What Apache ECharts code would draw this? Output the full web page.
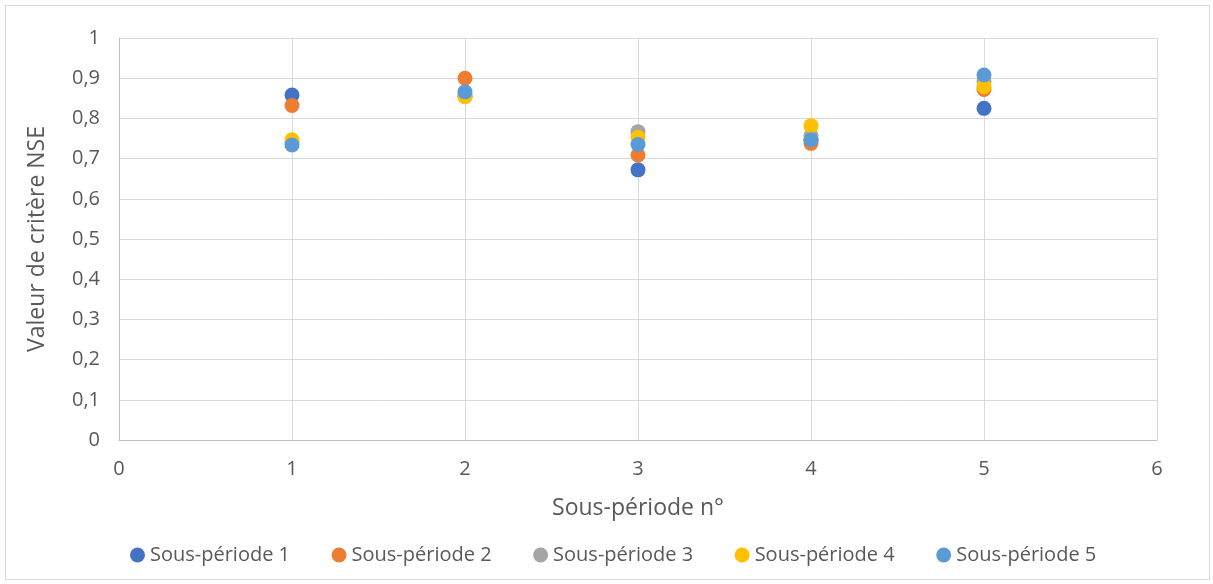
<!DOCTYPE html>
<html>
<head>
<meta charset="utf-8">
<script src="https://cdn.jsdelivr.net/npm/echarts@6/dist/echarts.min.js"></script>
<style>
html,body{margin:0;padding:0;background:#fff;}
#frame{position:absolute;left:5px;top:5px;width:1205px;height:575px;border:1px solid #d9d9d9;box-sizing:border-box;}
#c{position:absolute;left:0;top:0;width:1213px;height:584px;}
</style>
</head>
<body>
<div id="frame"></div>
<div id="c"></div>
<script>
const xValues = [1, 2, 3, 4, 5];
const seriesNames = ['Sous-période 1', 'Sous-période 2', 'Sous-période 3', 'Sous-période 4', 'Sous-période 5'];
const sp1 = [0.858, 0.855, 0.672, 0.745, 0.825];
const sp2 = [0.832, 0.900, 0.709, 0.738, 0.872];
const sp3 = [0.740, 0.860, 0.767, 0.757, 0.893];
const sp4 = [0.747, 0.854, 0.753, 0.782, 0.879];
const sp5 = [0.734, 0.866, 0.735, 0.747, 0.908];
const colors = ['#4472C4', '#ED7D31', '#A5A5A5', '#FFC000', '#5B9BD5'];
const allSeries = [sp1, sp2, sp3, sp4, sp5];
const yTickLabels = ['0','0,1','0,2','0,3','0,4','0,5','0,6','0,7','0,8','0,9','1'];

const font = '"Open Sans", sans-serif';
const chart = echarts.init(document.getElementById('c'), null, {renderer: 'canvas'});
chart.setOption({
  animation: false,
  color: colors,
  grid: {left: 119, right: 56, top: 38, bottom: 144, containLabel: false},
  xAxis: {
    type: 'value', min: 0, max: 6, interval: 1,
    name: 'Sous-période n°', nameLocation: 'middle', nameGap: 57,
    nameTextStyle: {color: '#595959', fontSize: 23, fontFamily: font},
    axisLine: {show: true, lineStyle: {color: '#bfbfbf', width: 1}},
    axisTick: {show: false},
    axisLabel: {color: '#595959', fontSize: 20, fontFamily: font, margin: 19},
    splitLine: {show: true, lineStyle: {color: '#d9d9d9', width: 1}}
  },
  yAxis: {
    type: 'value', min: 0, max: 1, interval: 0.1,
    name: 'Valeur de critère NSE', nameLocation: 'middle', nameGap: 70,
    nameTextStyle: {color: '#595959', fontSize: 23, fontFamily: font},
    axisLine: {show: true, lineStyle: {color: '#bfbfbf', width: 1}},
    axisTick: {show: false},
    axisLabel: {color: '#595959', fontSize: 20, fontFamily: font, margin: 19,
      formatter: v => yTickLabels[Math.round(v * 10)]},
    splitLine: {show: true, lineStyle: {color: '#d9d9d9', width: 1}}
  },
  legend: {
    top: 540, left: 125, itemGap: 41.5, itemWidth: 15, itemHeight: 15,
    icon: 'circle',
    textStyle: {color: '#595959', fontSize: 20, fontFamily: font},
    data: seriesNames
  },
  series: allSeries.map((vals, i) => ({
    name: seriesNames[i],
    type: 'scatter',
    symbol: 'circle',
    symbolSize: 15,
    itemStyle: {color: colors[i], opacity: 1},
    data: xValues.map((x, j) => [x, vals[j]])
  }))
});
</script>
</body>
</html>
